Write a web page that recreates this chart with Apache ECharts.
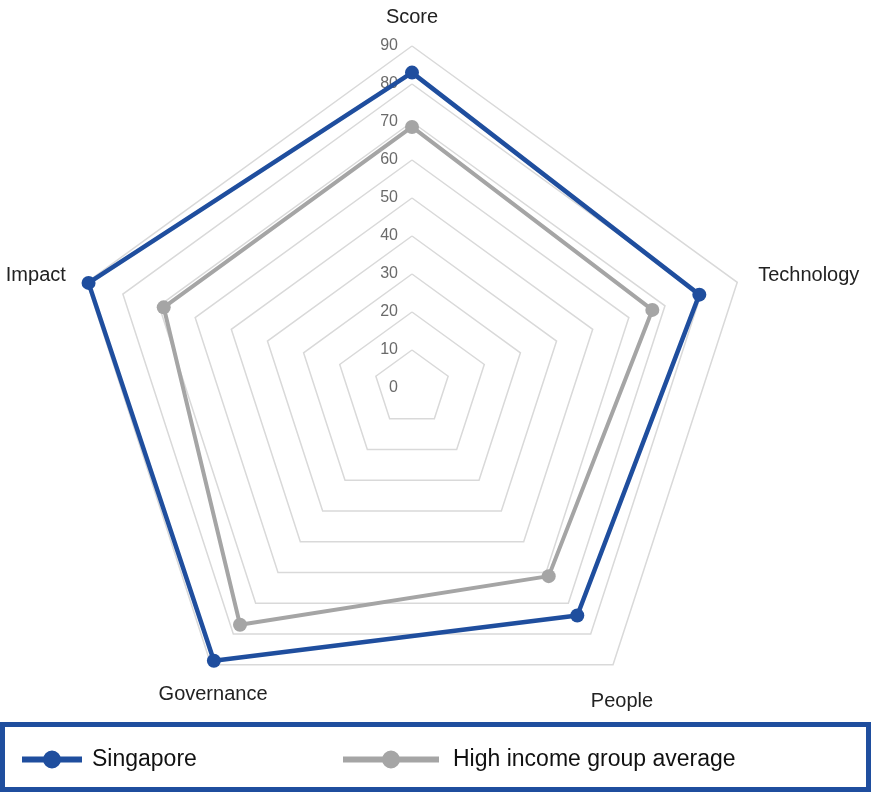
<!DOCTYPE html>
<html><head><meta charset="utf-8">
<script src="https://cdn.jsdelivr.net/npm/echarts@6/dist/echarts.min.js"></script>
<style>html,body{margin:0;padding:0;background:#fff}#c{width:871px;height:792px}</style>
</head><body><div id="c"></div>
<script>
// Indicators listed counter-clockwise from the top (ECharts radar order)
const categories = ['Score', 'Impact', 'Governance', 'People', 'Technology'];
const singapore = [83, 89.5, 88.7, 74, 79.5];
const highIncome = [68.7, 68.7, 77, 61.2, 66.5];
const seriesNames = ['Singapore', 'High income group average'];
const axisMin = 0, axisMax = 90, axisStep = 10;

const FONT = "'Liberation Sans', Arial, sans-serif";
const BLUE = '#1f4e9e', GRAY = '#a5a5a5';
const chart = echarts.init(document.getElementById('c'));
const icon60 = 'path://M0,6 L60,6 L60,12 L0,12 Z M30,0 A9,9 0 1,1 30,18 A9,9 0 1,1 30,0 Z';
const icon96 = 'path://M0,6 L96,6 L96,12 L0,12 Z M48,0 A9,9 0 1,1 48,18 A9,9 0 1,1 48,0 Z';
const nameStyles = {
  Score: { nameGap: 19 },
  Governance: { nameTextStyle: { align: 'center', verticalAlign: 'top', padding: [2, 0, 0, 30] } },
  People: { nameTextStyle: { align: 'center', verticalAlign: 'top', padding: [9, 8, 0, 0] } }
};
chart.setOption({
  animation: false,
  radar: {
    center: [412, 388],
    radius: 342,
    shape: 'polygon',
    splitNumber: (axisMax - axisMin) / axisStep,
    nameGap: 22,
    axisName: { color: '#222', fontFamily: FONT, fontSize: 20 },
    axisLine: { show: false },
    axisTick: { show: false },
    axisLabel: { show: false },
    splitArea: { show: false },
    splitLine: { lineStyle: { color: '#d9d9d9', width: 1.5 } },
    indicator: categories.map((n, i) => Object.assign({
      name: n, min: axisMin, max: axisMax,
      axisLabel: i === 0 ? { show: true, color: '#6a6a6a', fontFamily: FONT, fontSize: 16, margin: 14 } : undefined
    }, nameStyles[n] || {}))
  },
  legend: [
    { data: [seriesNames[0]], left: 17, top: 743, itemWidth: 60, itemHeight: 18, itemGap: 10,
      icon: icon60, textStyle: { fontFamily: FONT, fontSize: 23, color: '#111', padding: [0, 0, 0, 5] } },
    { data: [seriesNames[1]], left: 338, top: 743, itemWidth: 96, itemHeight: 18, itemGap: 14,
      icon: icon96, textStyle: { fontFamily: FONT, fontSize: 23, color: '#111', padding: [0, 0, 0, 9] } }
  ],
  graphic: [{ type: 'rect', shape: { x: 2.5, y: 724.5, width: 866, height: 65 },
    style: { fill: 'none', stroke: BLUE, lineWidth: 5 }, silent: true }],
  series: [{
    type: 'radar',
    symbol: 'circle',
    symbolSize: 14,
    data: [
      { name: seriesNames[1], value: highIncome, itemStyle: { color: GRAY }, lineStyle: { color: GRAY, width: 4 } },
      { name: seriesNames[0], value: singapore, itemStyle: { color: BLUE }, lineStyle: { color: BLUE, width: 4.5 } }
    ]
  }]
});
</script></body></html>
